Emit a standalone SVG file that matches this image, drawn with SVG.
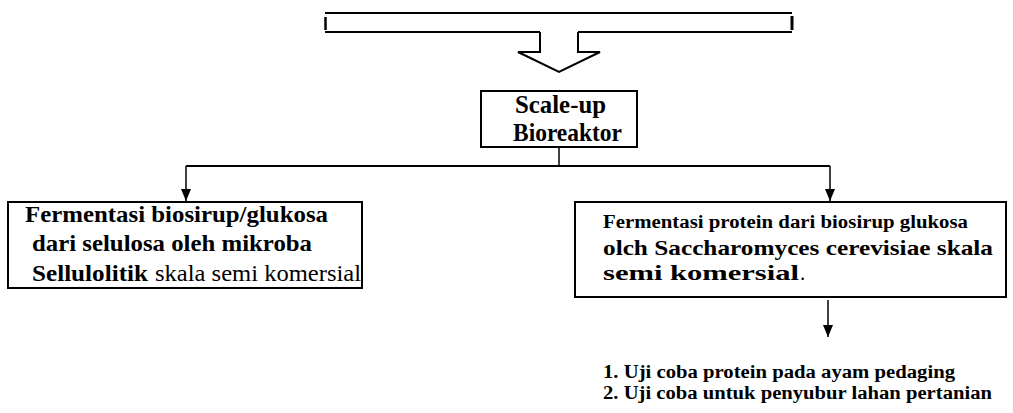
<svg xmlns="http://www.w3.org/2000/svg" width="1013" height="413" viewBox="0 0 1013 413">
  <defs>
    <marker id="arrow" viewBox="0 0 12 10" refX="12" refY="5" markerWidth="12" markerHeight="10" markerUnits="userSpaceOnUse" orient="auto">
      <path d="M0,0 L12,5 L0,10 Z" fill="#000"/>
    </marker>
  </defs>
  <style>
    .box { fill: #fff; stroke: #000; stroke-width: 2; }
    .line { fill: none; stroke: #000; stroke-width: 2; }
    .thin { fill: none; stroke: #000; stroke-width: 1.5; }
    .t { font-family: "Liberation Serif", "Times New Roman", serif; fill: #000; }
    .b { font-weight: bold; }
  </style>
  <rect width="1013" height="413" fill="#fff"/>

  <!-- top banner with block arrow -->
  <g id="banner">
    <line class="line" x1="325" y1="13" x2="792" y2="13"/>
    <line class="line" x1="325" y1="32" x2="540" y2="32"/>
    <line class="line" x1="578" y1="32" x2="792" y2="32"/>
    <line x1="325.5" y1="17" x2="325.5" y2="30" stroke="#000" stroke-width="2.5"/>
    <line x1="792" y1="16" x2="792" y2="30" stroke="#000" stroke-width="3"/>
    <path class="line" d="M540,32 V52 H518 L559,72 L600,52 H578 V32"/>
  </g>

  <!-- scale-up node -->
  <g id="scaleup">
    <rect class="box" x="481" y="91" width="156" height="56" stroke-width="1.5"/>
    <text class="t b" x="515" y="113" font-size="26" textLength="91" lengthAdjust="spacingAndGlyphs">Scale-up</text>
    <text class="t b" x="513" y="141" font-size="26" textLength="109" lengthAdjust="spacingAndGlyphs">Bioreaktor</text>
  </g>

  <!-- connectors -->
  <g id="connectors">
    <line class="thin" x1="559" y1="147" x2="559" y2="166"/>
    <line class="line" x1="186" y1="166" x2="830" y2="166"/>
    <line class="thin" x1="186" y1="166" x2="186" y2="201" marker-end="url(#arrow)"/>
    <line class="thin" x1="830" y1="166" x2="830" y2="201" marker-end="url(#arrow)"/>
    <line class="thin" x1="828" y1="300" x2="828" y2="337" marker-end="url(#arrow)"/>
  </g>

  <!-- left process -->
  <g id="left-process">
    <rect class="box" x="8" y="202" width="354" height="86"/>
    <text class="t b" x="25" y="222" font-size="23" textLength="303" lengthAdjust="spacingAndGlyphs">Fermentasi biosirup/glukosa</text>
    <text class="t b" x="32" y="251" font-size="23" textLength="280" lengthAdjust="spacingAndGlyphs">dari selulosa oleh mikroba</text>
    <text class="t b" x="32" y="281" font-size="23" textLength="116" lengthAdjust="spacingAndGlyphs">Sellulolitik</text>
    <text class="t" x="155" y="281" font-size="23" textLength="206" lengthAdjust="spacingAndGlyphs">skala semi komersial</text>
  </g>

  <!-- right process -->
  <g id="right-process">
    <rect class="box" x="575" y="202" width="431" height="95"/>
    <text class="t b" x="603" y="228" font-size="18" textLength="365" lengthAdjust="spacingAndGlyphs">Fermentasi protein dari biosirup glukosa</text>
    <text class="t b" x="603" y="255" font-size="21" textLength="390" lengthAdjust="spacingAndGlyphs">olch Saccharomyces cerevisiae skala</text>
    <text class="t b" x="603" y="280" font-size="21" textLength="196" lengthAdjust="spacingAndGlyphs">semi komersial</text>
    <text class="t" x="800" y="280" font-size="21">.</text>
  </g>

  <!-- trials -->
  <g id="trials">
    <text class="t b" x="603" y="378" font-size="18" textLength="352" lengthAdjust="spacingAndGlyphs">1. Uji coba protein pada ayam pedaging</text>
    <text class="t b" x="603" y="399" font-size="18" textLength="389" lengthAdjust="spacingAndGlyphs">2. Uji coba untuk penyubur lahan pertanian</text>
  </g>
</svg>
